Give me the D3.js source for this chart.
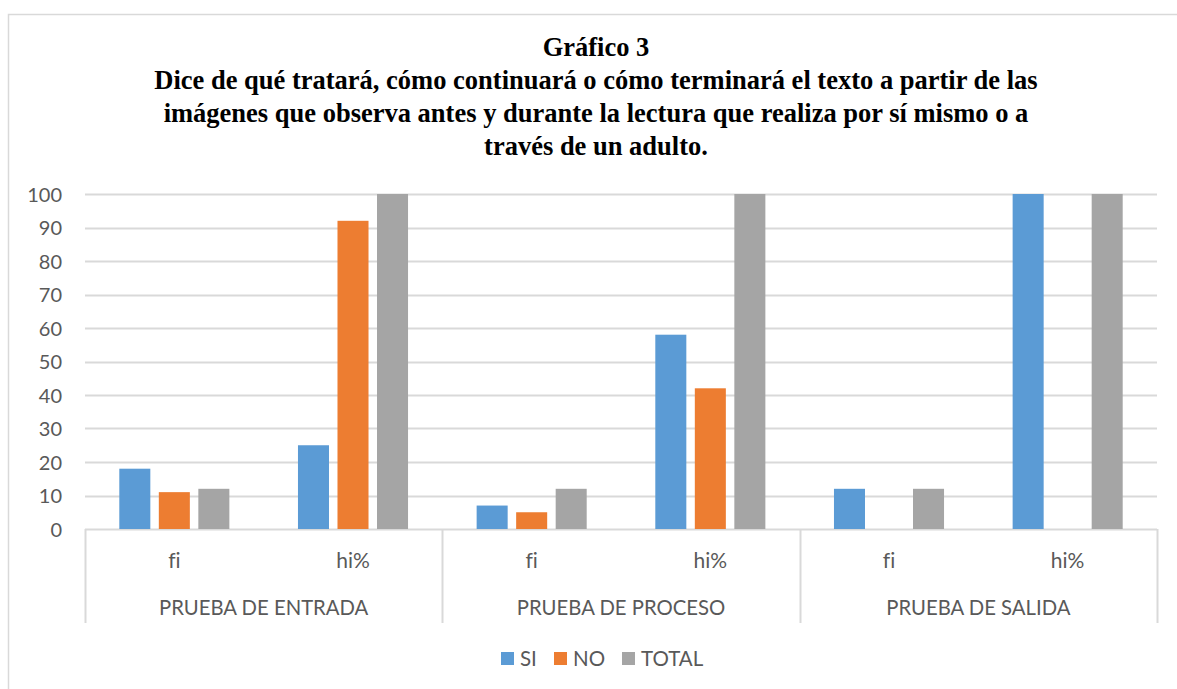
<!DOCTYPE html>
<html>
<head>
<meta charset="utf-8">
<script src="https://cdn.jsdelivr.net/npm/d3@7"></script>
<style>
  html, body { margin: 0; padding: 0; background: #fff; }
  svg { display: block; }
  text { font-variant-ligatures: none; font-feature-settings: "liga" 0; }
</style>
</head>
<body>
<svg id="chart" width="1177" height="689"></svg>
<script>
// Chart data
const groups = ["PRUEBA DE ENTRADA", "PRUEBA DE PROCESO", "PRUEBA DE SALIDA"];
const measures = ["fi", "hi%"];
const series = ["SI", "NO", "TOTAL"];
const colors = ["#5B9BD5", "#ED7D31", "#A5A5A5"];
// values per group, per measure: [SI, NO, TOTAL]
const entrada = { "fi": [18, 11, 12], "hi%": [25, 92, 100] };
const proceso = { "fi": [7, 5, 12], "hi%": [58, 42, 100] };
const salida  = { "fi": [12, 0, 12], "hi%": [100, 0, 100] };
const yTicks = [0, 10, 20, 30, 40, 50, 60, 70, 80, 90, 100];
const titleLines = [
  "Gráfico 3",
  "Dice de qué tratará, cómo continuará o cómo terminará el texto a partir de las",
  "imágenes que observa antes y durante la lectura que realiza por sí mismo o a",
  "través de un adulto."
];

const groupValues = [entrada, proceso, salida];
const rows = [];
groups.forEach((g, gi) => {
  measures.forEach(m => {
    series.forEach((s, si) => {
      rows.push({ group: g, measure: m, series: s, value: groupValues[gi][m][si], color: colors[si] });
    });
  });
});

const svg = d3.select("#chart");
const gridColor = "#d9d9d9";
const textColor = "#595959";
const font = "Lato, 'Open Sans', sans-serif";

// outer chart frame
svg.append("rect")
  .attr("x", 8.5).attr("y", 14.5)
  .attr("width", 1400).attr("height", 800)
  .attr("fill", "none").attr("stroke", gridColor).attr("stroke-width", 1.5);

// title
const title = svg.append("text")
  .attr("text-anchor", "middle")
  .attr("font-family", "'Liberation Serif', 'Times New Roman', serif")
  .attr("font-weight", "bold")
  .attr("font-size", 26.5)
  .attr("fill", "#000");
titleLines.forEach((t, i) => {
  title.append("tspan").attr("x", 596).attr("y", 56 + i * 33).text(t);
});

const plot = { left: 85, right: 1157, top: 194, bottom: 529 };

const x0 = d3.scaleBand().domain(groups).range([plot.left, plot.right]);
const x1 = d3.scaleBand().domain(measures).range([0, x0.bandwidth()]);
const x2 = d3.scaleBand().domain(series).range([0, x1.bandwidth()])
  .paddingInner(0.215).paddingOuter(0.868);
const y = d3.scaleLinear().domain([0, 100]).range([plot.bottom, plot.top]);

// gridlines
svg.append("g")
  .selectAll("line")
  .data(yTicks)
  .join("line")
  .attr("x1", plot.left).attr("x2", plot.right)
  .attr("y1", d => Math.round(y(d)) + 0.5).attr("y2", d => Math.round(y(d)) + 0.5)
  .attr("stroke", gridColor).attr("stroke-width", 2);

// y axis labels
const yAxis = d3.axisLeft(y).tickValues(yTicks).tickSize(0).tickPadding(23);
svg.append("g")
  .attr("transform", `translate(${plot.left},0)`)
  .call(yAxis)
  .call(g => g.select(".domain").remove())
  .call(g => g.selectAll("text")
    .attr("font-family", font).attr("font-size", 20).attr("fill", textColor).attr("dy", "0.35em"));

// bars
svg.append("g")
  .selectAll("rect")
  .data(rows.filter(d => d.value > 0))
  .join("rect")
  .attr("x", d => x0(d.group) + x1(d.measure) + x2(d.series))
  .attr("y", d => y(d.value))
  .attr("width", x2.bandwidth())
  .attr("height", d => y(0) - y(d.value))
  .attr("fill", d => d.color);

// category axis: measure labels, group labels, separators
const catBottom = 623;
const cat = svg.append("g");
cat.selectAll("line.sep")
  .data(groups.map(g => x0(g)).concat([plot.right]))
  .join("line")
  .attr("class", "sep")
  .attr("x1", d => Math.round(d) + 0.5).attr("x2", d => Math.round(d) + 0.5)
  .attr("y1", plot.bottom).attr("y2", catBottom)
  .attr("stroke", gridColor).attr("stroke-width", 2);

const measureCells = [];
groups.forEach(g => measures.forEach(m => measureCells.push({ g, m })));
cat.selectAll("text.measure")
  .data(measureCells)
  .join("text")
  .attr("class", "measure")
  .attr("x", d => x0(d.g) + x1(d.m) + x1.bandwidth() / 2)
  .attr("y", 561)
  .attr("dy", "0.35em")
  .attr("text-anchor", "middle")
  .attr("font-family", font).attr("font-size", 21).attr("fill", textColor)
  .text(d => d.m);

cat.selectAll("text.group")
  .data(groups)
  .join("text")
  .attr("class", "group")
  .attr("x", d => x0(d) + x0.bandwidth() / 2)
  .attr("y", 608)
  .attr("dy", "0.35em")
  .attr("text-anchor", "middle")
  .attr("font-family", font).attr("font-size", 20.3).attr("fill", textColor)
  .text(d => d);

// legend
const legendItems = [
  { label: "SI", x: 501 },
  { label: "NO", x: 554 },
  { label: "TOTAL", x: 622 }
];
const legend = svg.append("g");
legend.selectAll("rect")
  .data(legendItems)
  .join("rect")
  .attr("x", d => d.x).attr("y", 652)
  .attr("width", 13).attr("height", 13)
  .attr("fill", (d, i) => colors[i]);
legend.selectAll("text")
  .data(legendItems)
  .join("text")
  .attr("x", d => d.x + 19).attr("y", 659)
  .attr("dy", "0.35em")
  .attr("font-family", font).attr("font-size", 20.5).attr("fill", textColor)
  .text((d, i) => series[i]);
</script>
</body>
</html>
